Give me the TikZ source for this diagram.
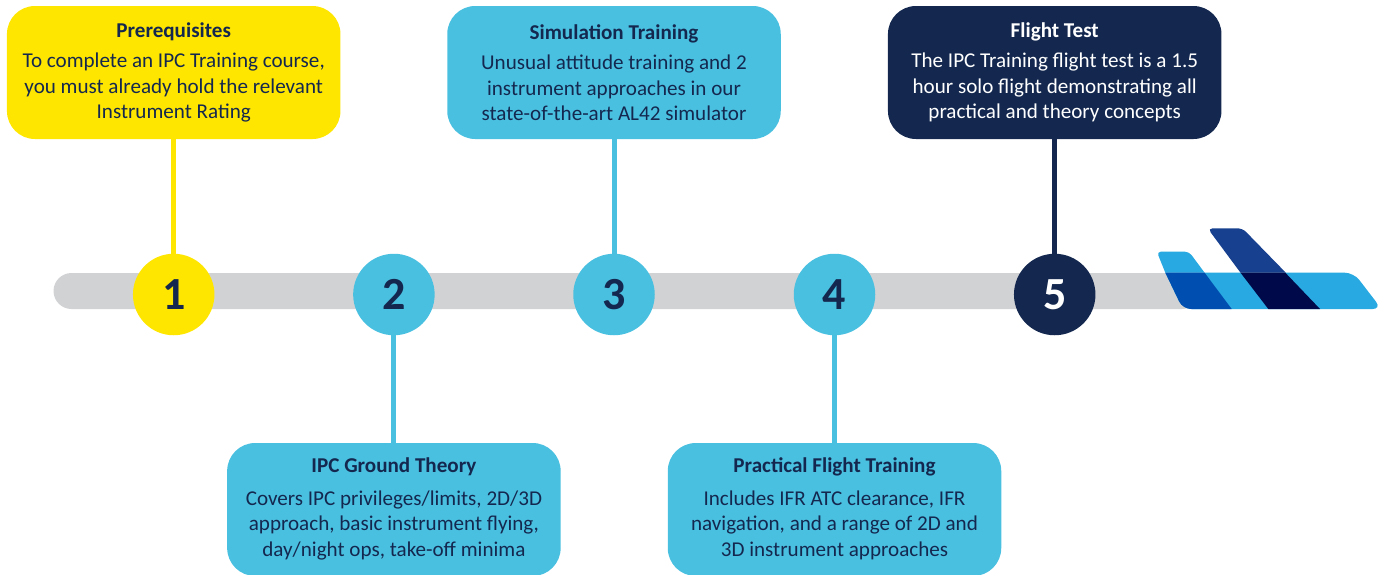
\documentclass[tikz,border=0pt]{standalone}
\usepackage{fontspec}
\setmainfont{Carlito}
\definecolor{navy}{HTML}{14284F}
\definecolor{sky}{HTML}{4AC0E0}
\definecolor{sun}{HTML}{FFE600}
\definecolor{bar}{HTML}{D1D2D4}
\definecolor{logolight}{HTML}{29A9E1}
\definecolor{logomid}{HTML}{004FB0}
\definecolor{logodark}{HTML}{17408F}
\definecolor{logodeep}{HTML}{000A4A}
\newcommand{\ttl}[2]{{\bfseries #2}\\[#1]}
\newcommand{\lift}{\rule[-5pt]{0pt}{5pt}}
\tikzset{
  x=1pt,y=-1pt,
  infobox/.style={rectangle,rounded corners=28pt,minimum width=333.5pt,minimum height=133pt,inner sep=0pt,align=center,text=navy,font=\fontsize{21.1}{25.5}\selectfont},
  numdot/.style={circle,minimum size=81.5pt,inner sep=0pt,text=navy,font=\fontsize{46}{46}\selectfont\bfseries},
  link/.style={line width=5pt},
}
\begin{document}
\begin{tikzpicture}
\useasboundingbox (0,0) rectangle (1386,574);
\clip (0,0) rectangle (1386,574);
% bar
\fill[bar,rounded corners=18pt] (53.5,273) rectangle (1200,309);
% logo
\fill[logolight] (1165.3,272.7) [rounded corners=4pt] -- (1156.8,251.7) -- (1189,251.7) [sharp corners] -- (1204.6,272.7) -- cycle;
\fill[logolight] (1165.3,272.7) [rounded corners=9pt] -- (1353.7,272.7) -- (1381.6,309) -- (1182.8,309) [sharp corners] -- cycle;
\fill[logodark] (1249,272.7) -- (1285.8,272.7) [rounded corners=5pt] -- (1242.5,228.3) -- (1207.6,228.3) [sharp corners] -- (1240.5,272.7) -- cycle;
\fill[logomid] (1165.3,272.7) -- (1204.6,272.7) -- (1231.7,309) [rounded corners=8pt] -- (1182.8,309) [sharp corners] -- cycle;
\fill[logodeep] (1240.5,272.7) -- (1285.3,272.7) -- (1320,309) -- (1268.3,309) -- cycle;
% boxes
\node[infobox,fill=sun] (b1) at (173.7,72.5) {\ttl{5pt}{Prerequisites}To complete an IPC Training course,\\you must already hold the relevant\\Instrument Rating};
\node[infobox,fill=sky] (b2) at (393.9,509.5) {\ttl{7pt}{IPC Ground Theory}Covers IPC privileges/limits, 2D/3D\\approach, basic instrument flying,\\day/night ops, take-off minima\lift};
\node[infobox,fill=sky] (b3) at (614,72.5) {\ttl{5pt}{Simulation Training}Unusual attitude training and 2\\instrument approaches in our\\state-of-the-art AL42 simulator};
\node[infobox,fill=sky] (b4) at (834.5,509.5) {\ttl{7pt}{Practical Flight Training}Includes IFR ATC clearance, IFR\\navigation, and a range of 2D and\\3D instrument approaches\lift};
\node[infobox,fill=navy,text=white] (b5) at (1054.7,72.5) {\ttl{5pt}{Flight Test}The IPC Training flight test is a 1.5\\hour solo flight demonstrating all\\practical and theory concepts};
% circles
\node[numdot,fill=sun] (c1) at (173.7,294.5) {1};
\node[numdot,fill=sky] (c2) at (393.9,294.5) {2};
\node[numdot,fill=sky] (c3) at (614,294.5) {3};
\node[numdot,fill=sky] (c4) at (834.5,294.5) {4};
\node[numdot,fill=navy,text=white] (c5) at (1054.7,294.5) {5};
% links
\draw[link,sun] (b1) -- (c1);
\draw[link,sky] (b2) -- (c2);
\draw[link,sky] (b3) -- (c3);
\draw[link,sky] (b4) -- (c4);
\draw[link,navy] (b5) -- (c5);
\end{tikzpicture}
\end{document}
